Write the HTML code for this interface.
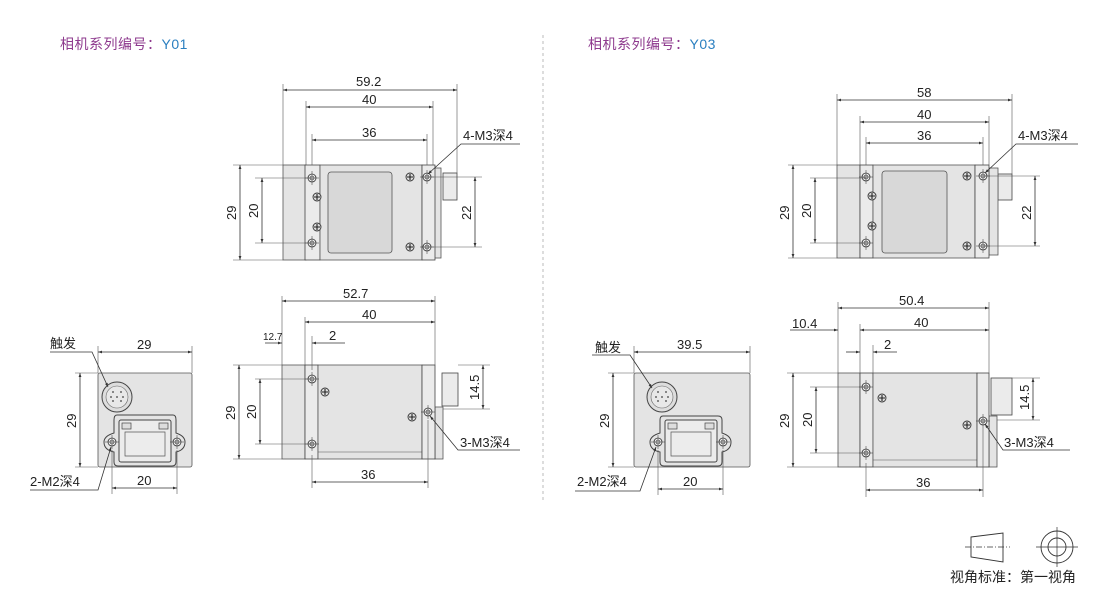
<!DOCTYPE html>
<html><head><meta charset="utf-8"><style>
body{margin:0;background:#fff;width:1100px;height:590px;overflow:hidden}
svg{display:block}
text{font-family:"Liberation Sans","Noto Sans CJK SC",sans-serif;font-size:13px;fill:#222}
.d{stroke:#333;stroke-width:0.8;fill:none}
.e{stroke:#555;stroke-width:0.6;fill:none}
.b{fill:#e4e4e4;stroke:#555;stroke-width:0.8}
.p{fill:#ebebeb;stroke:#444;stroke-width:0.8}
</style></head><body>
<svg width="1100" height="590" viewBox="0 0 1100 590" xmlns="http://www.w3.org/2000/svg">
<defs>
<marker id="a" viewBox="0 0 10 10" refX="10" refY="5" markerWidth="7" markerHeight="5" orient="auto-start-reverse"><path d="M0,1.5L10,5L0,8.5z" fill="#333"/></marker>
<g id="s"><circle r="4" fill="#ddd" stroke="#333" stroke-width="0.9"/><path d="M-3,0H3M0,-3V3" stroke="#222" stroke-width="1.1"/></g>
<g id="t"><circle r="4" fill="#eee" stroke="#333" stroke-width="0.8"/><circle r="2" fill="none" stroke="#333" stroke-width="0.6"/><path d="M-7,0H7M0,-7V7" stroke="#333" stroke-width="0.5"/></g>
</defs>

<text x="60" y="49" style="font-size:14px;letter-spacing:0.5px"><tspan style="fill:#8e3a8e">相机系列编号：</tspan><tspan style="fill:#2a7fc0">Y01</tspan></text>
<text x="588" y="49" style="font-size:14px;letter-spacing:0.5px"><tspan style="fill:#8e3a8e">相机系列编号：</tspan><tspan style="fill:#2a7fc0">Y03</tspan></text>
<line x1="543" y1="35" x2="543" y2="500" stroke="#bbb" stroke-dasharray="3,3"/>

<!-- ===== Y01 TOP VIEW ===== -->
<rect class="b" x="283" y="165" width="23" height="95"/>
<rect class="p" x="443" y="173" width="14" height="27"/>
<rect class="b" x="433" y="168" width="8" height="90"/>
<rect class="p" x="305" y="165" width="15" height="95"/>
<rect class="b" x="320" y="165" width="102" height="95"/>
<rect class="p" x="422" y="165" width="13" height="95"/>
<rect x="328" y="172" width="64" height="81" rx="3" fill="#d8d8d8" stroke="#555" stroke-width="0.8"/>
<use href="#t" x="312" y="178"/><use href="#t" x="312" y="243"/>
<use href="#s" x="317" y="197"/><use href="#s" x="317" y="227"/>
<use href="#s" x="410" y="177"/><use href="#t" x="427" y="177"/>
<use href="#s" x="410" y="247"/><use href="#t" x="427" y="247"/>
<path class="e" d="M283,165V84M457,173V84M306,165V101M433,165V101M312,165V134M427,165V134M233,165H283M233,260H283M255,178H312M255,243H312M427,177H482M427,247H482"/>
<line class="d" x1="283" y1="90" x2="457" y2="90" marker-start="url(#a)" marker-end="url(#a)"/>
<line class="d" x1="306" y1="107" x2="433" y2="107" marker-start="url(#a)" marker-end="url(#a)"/>
<line class="d" x1="312" y1="140" x2="427" y2="140" marker-start="url(#a)" marker-end="url(#a)"/>
<line class="d" x1="240" y1="165" x2="240" y2="260" marker-start="url(#a)" marker-end="url(#a)"/>
<line class="d" x1="262" y1="178" x2="262" y2="243" marker-start="url(#a)" marker-end="url(#a)"/>
<line class="d" x1="475" y1="177" x2="475" y2="247" marker-start="url(#a)" marker-end="url(#a)"/>
<text x="356" y="86">59.2</text><text x="362" y="104">40</text><text x="362" y="137">36</text>
<text transform="translate(236,220) rotate(-90)">29</text>
<text transform="translate(258,218) rotate(-90)">20</text>
<text transform="translate(471,220) rotate(-90)">22</text>
<path class="d" d="M520,144H461L428,174" marker-end="url(#a)"/>
<text x="463" y="140">4-M3深4</text>

<!-- ===== Y01 SIDE VIEW ===== -->
<rect class="b" x="282" y="365" width="23" height="94"/>
<rect class="p" x="442" y="373" width="16" height="33"/>
<rect class="b" x="435" y="407" width="8" height="52"/>
<rect class="p" x="305" y="365" width="13" height="94"/>
<rect class="b" x="318" y="365" width="104" height="94"/>
<line class="e" x1="318" y1="452" x2="422" y2="452"/>
<rect class="p" x="422" y="365" width="13" height="94"/>
<use href="#t" x="312" y="379"/><use href="#t" x="312" y="444"/>
<use href="#s" x="325" y="392"/><use href="#s" x="412" y="417"/><use href="#t" x="428" y="412"/>
<path class="e" d="M282,365V296M435,365V296M305,365V317M312,370V336M312,455V488M428,420V488M233,365H282M233,459H282M255,379H312M255,444H312M458,365H490M443,409H490"/>
<line class="d" x1="282" y1="301" x2="435" y2="301" marker-start="url(#a)" marker-end="url(#a)"/>
<line class="d" x1="305" y1="322" x2="435" y2="322" marker-start="url(#a)" marker-end="url(#a)"/>
<line class="d" x1="265" y1="343" x2="282" y2="343" marker-end="url(#a)"/>
<line class="d" x1="345" y1="343" x2="312" y2="343" marker-end="url(#a)"/>
<line class="d" x1="239" y1="365" x2="239" y2="459" marker-start="url(#a)" marker-end="url(#a)"/>
<line class="d" x1="260" y1="379" x2="260" y2="444" marker-start="url(#a)" marker-end="url(#a)"/>
<line class="d" x1="483" y1="365" x2="483" y2="409" marker-start="url(#a)" marker-end="url(#a)"/>
<line class="d" x1="312" y1="482" x2="428" y2="482" marker-start="url(#a)" marker-end="url(#a)"/>
<text x="343" y="298">52.7</text><text x="362" y="319">40</text>
<text x="263" y="340" style="font-size:10px">12.7</text><text x="329" y="340">2</text>
<text transform="translate(235,420) rotate(-90)">29</text>
<text transform="translate(256,419) rotate(-90)">20</text>
<text transform="translate(479,400) rotate(-90)">14.5</text>
<text x="361" y="479">36</text>
<path class="d" d="M520,450H458L430,416" marker-end="url(#a)"/>
<text x="460" y="447">3-M3深4</text>

<!-- ===== Y01 FRONT VIEW ===== -->
<rect class="b" x="98" y="373" width="94" height="94" rx="2"/>
<circle cx="117" cy="397" r="15" fill="#ddd" stroke="#444"/>
<circle cx="117" cy="397" r="11" fill="#e8e8e8" stroke="#666" stroke-width="0.6"/>
<g fill="#666"><circle cx="113" cy="392" r="1"/><circle cx="121" cy="392" r="1"/><circle cx="113" cy="401" r="1"/><circle cx="121" cy="401" r="1"/><circle cx="117" cy="397" r="1"/><circle cx="111" cy="397" r="1"/><circle cx="123" cy="397" r="1"/></g>
<path d="M117,415H173Q176,415 176,420V433Q185,436 185,442Q185,450 176,452V462Q176,466 172,466H118Q114,466 114,462V452Q104,450 104,442Q104,436 114,433V420Q114,415 117,415Z" fill="#e4e4e4" stroke="#444"/>
<rect x="119" y="420" width="52" height="42" rx="2" fill="#ececec" stroke="#444"/>
<path d="M125,432H165V456H125Z" fill="none" stroke="#555" stroke-width="0.7"/>
<rect x="122" y="423" width="9" height="6" fill="#ddd" stroke="#444" stroke-width="0.7"/>
<rect x="159" y="423" width="9" height="6" fill="#ddd" stroke="#444" stroke-width="0.7"/>
<use href="#t" x="112" y="442"/><use href="#t" x="177" y="442"/>
<path class="e" d="M98,373V346M192,373V346M75,373H98M75,467H98M112,450V494M177,450V494"/>
<line class="d" x1="98" y1="352" x2="192" y2="352" marker-start="url(#a)" marker-end="url(#a)"/>
<line class="d" x1="80" y1="373" x2="80" y2="467" marker-start="url(#a)" marker-end="url(#a)"/>
<line class="d" x1="112" y1="488" x2="177" y2="488" marker-start="url(#a)" marker-end="url(#a)"/>
<text x="137" y="349">29</text><text x="137" y="485">20</text>
<text transform="translate(76,428) rotate(-90)">29</text>
<text x="50" y="348">触发</text>
<path class="d" d="M50,352H92L108,387" marker-end="url(#a)"/>
<text x="30" y="486">2-M2深4</text>
<path class="d" d="M30,490H98L111,447" marker-end="url(#a)"/>

<!-- ===== Y03 TOP VIEW ===== -->
<rect class="b" x="837" y="165" width="23" height="93"/>
<rect class="p" x="998" y="174" width="14" height="26"/>
<rect class="b" x="989" y="168" width="9" height="87"/>
<rect class="p" x="860" y="165" width="13" height="93"/>
<rect class="b" x="873" y="165" width="102" height="93"/>
<rect class="p" x="975" y="165" width="14" height="93"/>
<rect x="882" y="171" width="65" height="82" rx="3" fill="#d8d8d8" stroke="#555" stroke-width="0.8"/>
<use href="#t" x="866" y="177"/><use href="#t" x="866" y="243"/>
<use href="#s" x="872" y="196"/><use href="#s" x="872" y="226"/>
<use href="#s" x="967" y="176"/><use href="#t" x="983" y="176"/>
<use href="#s" x="967" y="246"/><use href="#t" x="983" y="246"/>
<path class="e" d="M837,165V94M1012,174V94M860,165V116M989,165V116M866,165V137M983,165V137M788,165H837M788,258H837M810,178H866M810,243H866M983,176H1040M983,246H1040"/>
<line class="d" x1="837" y1="100" x2="1012" y2="100" marker-start="url(#a)" marker-end="url(#a)"/>
<line class="d" x1="860" y1="122" x2="989" y2="122" marker-start="url(#a)" marker-end="url(#a)"/>
<line class="d" x1="866" y1="143" x2="983" y2="143" marker-start="url(#a)" marker-end="url(#a)"/>
<line class="d" x1="793" y1="165" x2="793" y2="258" marker-start="url(#a)" marker-end="url(#a)"/>
<line class="d" x1="815" y1="178" x2="815" y2="243" marker-start="url(#a)" marker-end="url(#a)"/>
<line class="d" x1="1035" y1="176" x2="1035" y2="246" marker-start="url(#a)" marker-end="url(#a)"/>
<text x="917" y="97">58</text><text x="917" y="119">40</text><text x="917" y="140">36</text>
<text transform="translate(789,220) rotate(-90)">29</text>
<text transform="translate(811,218) rotate(-90)">20</text>
<text transform="translate(1031,220) rotate(-90)">22</text>
<path class="d" d="M1078,144H1016L985,173" marker-end="url(#a)"/>
<text x="1018" y="140">4-M3深4</text>

<!-- ===== Y03 SIDE VIEW ===== -->
<rect class="b" x="838" y="373" width="22" height="94"/>
<rect class="p" x="991" y="378" width="21" height="37"/>
<rect class="b" x="989" y="416" width="8" height="51"/>
<rect class="p" x="860" y="373" width="13" height="94"/>
<rect class="b" x="873" y="373" width="104" height="94"/>
<line class="e" x1="873" y1="460" x2="977" y2="460"/>
<rect class="p" x="977" y="373" width="12" height="94"/>
<use href="#t" x="866" y="387"/><use href="#t" x="866" y="453"/>
<use href="#s" x="882" y="398"/><use href="#s" x="967" y="425"/><use href="#t" x="983" y="421"/>
<path class="e" d="M838,373V302M989,373V302M860,373V324M873,373V345M866,463V497M983,428V497M787,373H838M787,467H838M810,387H866M810,453H866M1012,378H1040M997,420H1040"/>
<line class="d" x1="838" y1="308" x2="989" y2="308" marker-start="url(#a)" marker-end="url(#a)"/>
<line class="d" x1="860" y1="330" x2="989" y2="330" marker-start="url(#a)" marker-end="url(#a)"/>
<line class="d" x1="790" y1="330" x2="838" y2="330" marker-end="url(#a)"/>
<line class="d" x1="846" y1="352" x2="860" y2="352" marker-end="url(#a)"/>
<line class="d" x1="897" y1="352" x2="873" y2="352" marker-end="url(#a)"/>
<line class="d" x1="793" y1="373" x2="793" y2="467" marker-start="url(#a)" marker-end="url(#a)"/>
<line class="d" x1="816" y1="387" x2="816" y2="453" marker-start="url(#a)" marker-end="url(#a)"/>
<line class="d" x1="1033" y1="378" x2="1033" y2="420" marker-start="url(#a)" marker-end="url(#a)"/>
<line class="d" x1="866" y1="490" x2="983" y2="490" marker-start="url(#a)" marker-end="url(#a)"/>
<text x="899" y="305">50.4</text><text x="914" y="327">40</text>
<text x="792" y="328">10.4</text><text x="884" y="349">2</text>
<text transform="translate(789,428) rotate(-90)">29</text>
<text transform="translate(812,427) rotate(-90)">20</text>
<text transform="translate(1029,410) rotate(-90)">14.5</text>
<text x="916" y="487">36</text>
<path class="d" d="M1070,450H1003L985,424" marker-end="url(#a)"/>
<text x="1004" y="447">3-M3深4</text>

<!-- ===== Y03 FRONT VIEW ===== -->
<rect class="b" x="634" y="373" width="116" height="94" rx="2"/>
<circle cx="662" cy="397" r="15" fill="#ddd" stroke="#444"/>
<circle cx="662" cy="397" r="11" fill="#e8e8e8" stroke="#666" stroke-width="0.6"/>
<g fill="#666"><circle cx="658" cy="392" r="1"/><circle cx="666" cy="392" r="1"/><circle cx="658" cy="401" r="1"/><circle cx="666" cy="401" r="1"/><circle cx="662" cy="397" r="1"/><circle cx="656" cy="397" r="1"/><circle cx="668" cy="397" r="1"/></g>
<path d="M663,416H718Q722,416 722,420V433Q731,436 731,442Q731,450 722,452V462Q722,466 718,466H664Q660,466 660,462V452Q650,450 650,442Q650,436 660,433V420Q660,416 663,416Z" fill="#e4e4e4" stroke="#444"/>
<rect x="665" y="420" width="52" height="42" rx="2" fill="#ececec" stroke="#444"/>
<path d="M671,432H711V456H671Z" fill="none" stroke="#555" stroke-width="0.7"/>
<rect x="668" y="423" width="9" height="6" fill="#ddd" stroke="#444" stroke-width="0.7"/>
<rect x="705" y="423" width="9" height="6" fill="#ddd" stroke="#444" stroke-width="0.7"/>
<use href="#t" x="658" y="442"/><use href="#t" x="723" y="442"/>
<path class="e" d="M634,373V346M750,373V346M608,373H634M608,467H634M658,450V495M723,450V495"/>
<line class="d" x1="634" y1="352" x2="750" y2="352" marker-start="url(#a)" marker-end="url(#a)"/>
<line class="d" x1="613" y1="373" x2="613" y2="467" marker-start="url(#a)" marker-end="url(#a)"/>
<line class="d" x1="658" y1="489" x2="723" y2="489" marker-start="url(#a)" marker-end="url(#a)"/>
<text x="677" y="349">39.5</text><text x="683" y="486">20</text>
<text transform="translate(609,428) rotate(-90)">29</text>
<text x="595" y="352">触发</text>
<path class="d" d="M592,355H630L652,388" marker-end="url(#a)"/>
<text x="577" y="486">2-M2深4</text>
<path class="d" d="M575,491H640L656,447" marker-end="url(#a)"/>

<!-- ===== Legend ===== -->
<path d="M971,537L1003,533V562L971,557Z" fill="none" stroke="#333" stroke-width="0.9"/>
<line x1="965" y1="547" x2="1010" y2="547" stroke="#333" stroke-width="0.7" stroke-dasharray="6,2,1,2"/>
<circle cx="1057" cy="547" r="16" fill="none" stroke="#333" stroke-width="0.9"/>
<circle cx="1057" cy="547" r="9" fill="none" stroke="#333" stroke-width="0.9"/>
<path d="M1036,547H1078M1057,527V567" stroke="#333" stroke-width="0.7"/>
<text x="950" y="582" style="font-size:14px">视角标准：第一视角</text>
</svg>
</body></html>
